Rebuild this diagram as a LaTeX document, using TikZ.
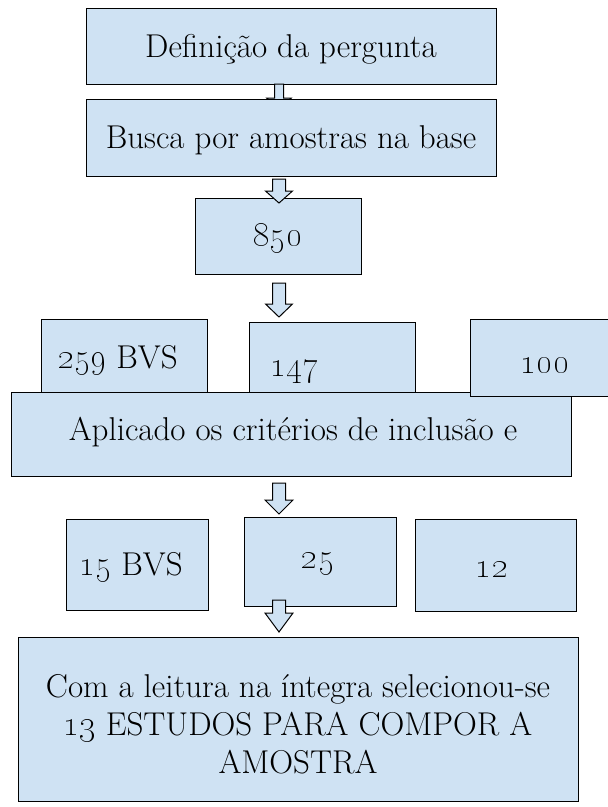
\documentclass[tikz,border=0pt]{standalone}
\usetikzlibrary{calc}
\DeclareFontShape{OML}{cmm}{m}{it}{<->cmmi10}{}
\definecolor{boxblue}{RGB}{207,226,243}
\tikzset{
  flowbox/.style={draw=black, fill=boxblue, line width=1.3pt, inner sep=0pt, anchor=north west},
  lbl/.style={font=\fontsize{33}{38}\selectfont, inner sep=0pt, anchor=base},
  barrow/.style={draw=black, fill=boxblue, line width=1pt, line join=miter},
}
\newcommand\blockarrow[5]{%
  \draw[barrow] let \p1=(#1), \p2=(#2) in
    (\x1-#3,\y1) -- (\x1+#3,\y1) -- (\x1+#3,\y2+#5) -- (\x1+#4,\y2+#5) --
    (\x1,\y2) -- (\x1-#4,\y2+#5) -- (\x1-#3,\y2+#5) -- cycle;}
\begin{document}
\begin{tikzpicture}[x=1pt,y=-1pt]
\useasboundingbox (0,0) rectangle (608,807);
\clip (0,0) rectangle (608,807);
% 1
\node[flowbox, minimum width=410pt, minimum height=76pt] (b1) at (86,8) {};
\node[lbl] (t1) at (291,57) {Definição da pergunta};
\coordinate (a1s) at (279,84);
\coordinate (a1e) at (279,110);
\blockarrow{a1s}{a1e}{4.5pt}{12.5pt}{12pt}
% 2
\node[flowbox, minimum width=410pt, minimum height=77pt] (b2) at (86,99) {};
\node[lbl] (t2) at (291,148) {Busca por amostras na base};
% 3
\node[flowbox, minimum width=166pt, minimum height=76pt] (b3) at (195,198) {};
\node[lbl] (t3) at (278,246) {\oldstylenums{850}};
\coordinate (a2s) at (279,179);
\coordinate (a2e) at (279,203);
\blockarrow{a2s}{a2e}{6.5pt}{13.5pt}{12pt}
\coordinate (a3s) at (279,283);
\coordinate (a3e) at (279,317);
\blockarrow{a3s}{a3e}{6.5pt}{13.5pt}{13pt}
% row 1
\node[flowbox, minimum width=166pt, minimum height=85pt] (b4) at (41,319) {};
\node[lbl] (t4) at (118,368) {\oldstylenums{259} BVS};
\node[flowbox, minimum width=166pt, minimum height=80pt] (b5) at (249,322) {};
\node[lbl, anchor=base west] (t5) at (270,376) {\oldstylenums{147}};
\node[flowbox, minimum width=560pt, minimum height=84pt] (b6) at (11,392) {};
\node[lbl] (t6) at (293,440) {Aplicado os critérios de inclusão e};
\node[flowbox, minimum width=150pt, minimum height=77pt] (b7) at (470,319) {};
\node[lbl] (t7) at (545,373) {\oldstylenums{100}};
\coordinate (a4s) at (279,483);
\coordinate (a4e) at (279,514);
\blockarrow{a4s}{a4e}{6.5pt}{14pt}{14pt}
% row 2
\node[flowbox, minimum width=142pt, minimum height=91pt] (b8) at (66,519) {};
\node[lbl] (t8) at (131,575) {\oldstylenums{15} BVS};
\node[flowbox, minimum width=152pt, minimum height=89pt] (b9) at (244,517) {};
\node[lbl] (t9) at (318,568) {\oldstylenums{25}};
\node[flowbox, minimum width=161pt, minimum height=92pt] (b10) at (415,519) {};
\node[lbl] (t10) at (492,577) {\oldstylenums{12}};
\coordinate (a5s) at (279,600);
\coordinate (a5e) at (279,632);
\blockarrow{a5s}{a5e}{6.5pt}{14pt}{19pt}
% final
\node[flowbox, minimum width=560pt, minimum height=164pt] (b11) at (18,637) {};
\node[lbl] (t11a) at (298,697) {Com a leitura na íntegra selecionou-se};
\node[lbl] (t11b) at (298,735) {\oldstylenums{13} ESTUDOS PARA COMPOR A};
\node[lbl] (t11c) at (298,773) {AMOSTRA};
\end{tikzpicture}
\end{document}
